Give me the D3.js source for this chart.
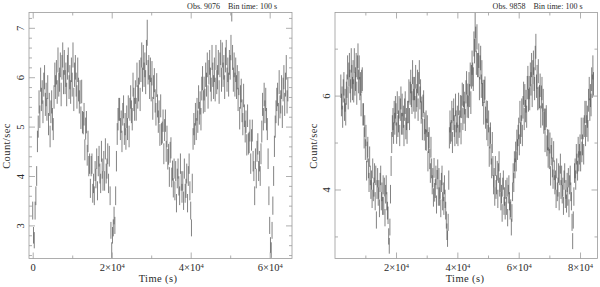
<!DOCTYPE html>
<html>
<head>
<meta charset="utf-8">
<script src="https://cdn.jsdelivr.net/npm/d3@7"></script>
<style>
  body { margin: 0; background: #fff; }
  svg { display: block; font-family: "Liberation Serif", "DejaVu Serif", serif; }
</style>
</head>
<body>
<div id="chart"></div>
<script>
// count rates, one value every 200 s
const binStep = 200;
const binTime = 100;

const obs9076Start = 0;
const obs9076Rates = [
  3.3, 2.8, 2.7, 3.3, 3.6, 4.0, 4.7, 5.0, 5.5, 5.2,
  5.95, 5.55, 5.70, 5.30, 5.85, 6.00, 5.45, 5.65, 5.35, 5.80,
  5.05, 5.45, 4.80, 5.30, 5.50, 5.15, 4.95, 5.60, 6.05, 5.80,
  6.10, 5.70, 6.35, 5.85, 5.95, 6.25, 5.65, 6.20, 6.45, 5.90,
  6.30, 5.90, 6.05, 5.65, 6.20, 6.35, 5.80, 6.00, 5.70, 6.15,
  5.85, 6.45, 5.55, 6.05, 6.20, 5.85, 5.60, 6.15, 5.75, 5.50,
  5.70, 5.18, 5.71, 5.09, 5.07, 5.25, 4.53, 4.96, 5.09, 4.42,
  4.70, 4.20, 4.25, 3.75, 4.20, 4.25, 3.65, 3.85, 3.60, 4.10,
  3.95, 4.35, 3.70, 4.20, 4.40, 4.05, 3.85, 4.50, 4.15, 3.90,
  4.30, 3.90, 4.55, 4.05, 4.15, 4.45, 3.85, 4.40, 3.60, 2.90,
  2.5, 2.8, 2.95, 3.2, 3.0, 3.6, 4.3, 4.85, 5.15, 5.35,
  5.35, 4.95, 5.10, 4.70, 5.25, 5.40, 4.85, 5.05, 4.75, 5.20,
  4.95, 5.40, 4.80, 5.35, 5.60, 5.30, 5.15, 5.85, 5.55, 5.35,
  5.70, 5.35, 6.05, 5.60, 5.75, 6.10, 5.55, 6.15, 6.45, 5.95,
  6.40, 6.05, 6.25, 5.90, 6.50, 6.90, 6.10, 6.20, 5.80, 6.15,
  5.75, 6.08, 5.37, 5.80, 5.94, 5.52, 5.25, 5.84, 5.42, 5.10,
  5.30, 4.83, 5.42, 4.85, 4.88, 5.12, 4.45, 4.93, 5.12, 4.50,
  4.80, 4.34, 4.44, 3.98, 4.48, 4.57, 3.97, 4.11, 3.76, 4.15,
  3.70, 4.10, 3.45, 3.95, 4.15, 3.80, 3.60, 4.25, 3.90, 3.65,
  3.90, 3.50, 4.15, 3.65, 3.75, 4.05, 3.45, 4.00, 4.25, 3.70,
  3.3, 2.95, 3.85, 4.75, 5.05, 4.85, 5.25, 4.95, 5.35, 5.10,
  5.60, 5.27, 5.48, 5.15, 5.77, 5.98, 5.50, 5.77, 5.53, 6.05,
  5.85, 6.25, 5.60, 6.10, 6.30, 5.95, 5.75, 6.40, 6.05, 5.80,
  6.15, 5.75, 6.40, 5.90, 6.00, 6.30, 5.70, 6.25, 6.50, 5.95,
  6.45, 6.05, 6.20, 5.80, 6.35, 6.50, 5.95, 6.15, 5.85, 6.30,
  6.2, 6.6, 7.4, 6.4, 5.95, 6.25, 5.85, 6.15, 5.8, 6.0,
  5.55, 5.88, 5.17, 5.60, 5.73, 5.32, 5.05, 5.63, 5.22, 4.90,
  5.10, 4.63, 5.22, 4.65, 4.68, 4.92, 4.25, 4.73, 4.92, 4.30,
  4.1, 3.6, 4.35, 3.95, 4.5, 4.65, 4.1, 4.3, 4.0, 4.45,
  4.9, 5.45, 5.15, 5.65, 5.3, 5.55, 5.15, 4.95, 4.35, 3.6,
  3.0, 2.6, 2.5, 2.9, 3.4, 4.0, 4.6, 5.0, 5.3, 5.55,
  5.65, 5.25, 5.90, 5.40, 5.50, 5.80, 5.20, 5.75, 6.00, 5.45,
  5.85, 6.2, 5.5, 5.75
];

const obs9858Start = 2000;
const obs9858Rates = [
  6.20, 5.80, 5.95, 5.55, 6.10, 6.25, 5.70, 5.90, 5.60, 6.05,
  6.20, 6.60, 5.95, 6.45, 6.65, 6.30, 6.10, 6.75, 6.40, 6.15,
  6.50, 6.10, 6.75, 6.25, 6.35, 6.65, 6.05, 6.60, 6.85, 6.30,
  6.60, 6.15, 6.25, 5.80, 6.30, 6.35, 5.60, 5.60, 5.10, 5.35,
  4.85, 5.15, 4.40, 4.80, 4.90, 4.45, 4.15, 4.70, 4.30, 4.00,
  4.20, 3.80, 4.45, 3.95, 4.05, 4.35, 3.75, 4.30, 3.35, 4.00,
  4.25, 3.85, 4.00, 3.60, 4.15, 4.30, 3.75, 3.95, 3.65, 4.10,
  3.65, 4.05, 3.40, 3.90, 4.10, 3.75, 3.55, 3.45, 3.00, 2.80,
  3.2, 3.9, 4.5, 5.0, 5.35, 5.5, 5.2, 5.65, 5.4, 5.75,
  5.60, 5.20, 5.85, 5.35, 5.45, 5.75, 5.15, 5.70, 5.95, 5.40,
  5.80, 5.40, 5.55, 5.15, 5.70, 5.85, 5.30, 5.50, 5.20, 5.65,
  5.65, 6.10, 5.50, 6.05, 6.30, 6.00, 5.85, 6.50, 6.15, 5.90,
  6.15, 5.75, 6.40, 5.90, 6.00, 6.30, 5.70, 6.25, 6.50, 5.95,
  6.10, 5.64, 5.74, 5.28, 5.78, 5.87, 5.27, 5.41, 5.06, 5.45,
  5.05, 5.35, 4.60, 5.00, 5.10, 4.65, 4.35, 4.90, 4.45, 4.10,
  4.25, 3.83, 4.46, 3.94, 4.02, 4.30, 3.68, 4.21, 4.43, 3.85,
  4.25, 3.85, 4.00, 3.60, 4.15, 4.30, 3.75, 3.95, 3.65, 4.10,
  3.8, 3.55, 3.35, 3.1, 2.95, 3.3, 4.2, 5.1, 5.45, 5.2,
  5.25, 5.65, 5.00, 5.50, 5.70, 5.35, 5.15, 5.80, 5.45, 5.20,
  5.55, 5.15, 5.82, 5.33, 5.45, 5.77, 5.19, 5.76, 6.03, 5.50,
  6.00, 5.64, 5.84, 5.48, 6.08, 6.27, 5.77, 6.01, 5.76, 6.25,
  6.00, 6.45, 5.85, 6.40, 6.70, 6.45, 6.35, 7.10, 6.95, 7.50,
  7.20, 6.70, 7.25, 6.65, 6.65, 6.85, 6.15, 6.60, 6.80, 6.20,
  6.50, 6.02, 6.09, 5.62, 6.09, 6.16, 5.53, 5.66, 5.28, 5.65,
  5.15, 5.45, 4.70, 5.10, 5.20, 4.75, 4.45, 5.00, 4.50, 4.10,
  4.25, 3.85, 4.50, 4.00, 4.10, 4.40, 3.80, 4.35, 4.60, 4.05,
  4.15, 3.75, 3.90, 3.50, 4.05, 4.20, 3.65, 3.85, 3.55, 4.00,
  3.65, 4.05, 3.40, 3.90, 4.10, 3.75, 3.55, 3.60, 3.20, 3.50,
  3.95, 4.35, 4.15, 4.60, 4.45, 4.80, 4.60, 5.05, 4.85, 5.15,
  5.30, 4.95, 5.65, 5.20, 5.35, 5.70, 5.15, 5.75, 6.05, 5.50,
  6.00, 5.67, 5.88, 5.55, 6.17, 6.38, 5.90, 6.17, 5.93, 6.45,
  6.25, 6.65, 6.00, 6.50, 6.70, 6.35, 6.15, 6.80, 7.05, 6.20,
  6.40, 5.93, 6.52, 5.95, 5.98, 6.22, 5.55, 5.97, 6.15, 5.60,
  5.90, 5.42, 5.49, 5.02, 5.49, 5.56, 4.93, 5.06, 4.68, 5.05,
  4.65, 4.99, 4.29, 4.73, 4.88, 4.47, 4.22, 4.81, 4.41, 4.10,
  4.20, 3.80, 4.45, 3.95, 4.05, 4.35, 3.75, 4.30, 4.55, 4.00,
  4.30, 3.90, 4.05, 3.65, 4.20, 4.35, 3.80, 4.00, 3.70, 4.15,
  3.85, 4.25, 3.60, 4.10, 4.30, 3.95, 3.75, 3.30, 2.90, 3.35,
  3.85, 4.35, 4.45, 4.20, 4.75, 4.55, 4.40, 4.90, 4.60, 4.75,
  4.95, 4.60, 5.30, 4.80, 4.95, 5.30, 4.75, 5.35, 5.65, 5.15,
  5.65, 5.35, 5.55, 5.25, 5.90, 6.15, 5.70, 6.00, 5.80, 6.35,
  6.2, 6.6, 6.25
];

// ticks
const timeMajor = [0, 20000, 40000, 60000, 80000];
const timeMinor = [10000, 30000, 50000, 70000];
const rateMajor9076 = [3, 4, 5, 6, 7];
const rateMinor9076 = [2.4, 2.6, 2.8, 3.2, 3.4, 3.6, 3.8, 4.2, 4.4, 4.6, 4.8,
  5.2, 5.4, 5.6, 5.8, 6.2, 6.4, 6.6, 6.8, 7.2];
const rateMajor9858 = [4, 6];
const rateMinor9858 = [3, 5, 7];

const width = 600, height = 287;
const frameTop = 12.5, frameBottom = 258.5;

const panels = [
  { obs: "9076", start: obs9076Start, rates: obs9076Rates,
    left: 29, right: 292, xDomain: [-940, 65650], yDomain: [2.33, 7.31],
    yMajor: rateMajor9076, yMinor: rateMinor9076, ylabX: 10, tlabX: 158 },
  { obs: "9858", start: obs9858Start, rates: obs9858Rates,
    left: 335, right: 597.5, xDomain: [100, 85700], yDomain: [2.53, 7.77],
    yMajor: rateMajor9858, yMinor: rateMinor9858, ylabX: 317, tlabX: 465 }
];

const svg = d3.select("#chart")
  .append("svg")
    .attr("width", width)
    .attr("height", height);

const tickColor = "#9a9a9a";
const textColor = "#2a2a2a";

panels.forEach((p, k) => {
  const x = d3.scaleLinear().domain(p.xDomain).range([p.left, p.right]);
  const y = d3.scaleLinear().domain(p.yDomain).range([frameBottom, frameTop]);

  const clipId = "clip" + k;
  svg.append("clipPath").attr("id", clipId)
    .append("rect")
      .attr("x", p.left).attr("y", frameTop)
      .attr("width", p.right - p.left).attr("height", frameBottom - frameTop);

  // Poisson error on a 100 s bin
  const pts = p.rates.map((r, i) => ({ t: p.start + i * binStep, r: r, e: Math.sqrt(r / binTime) }));

  const g = svg.append("g").attr("clip-path", `url(#${clipId})`);

  g.selectAll("line.err")
    .data(pts)
    .join("line")
      .attr("class", "err")
      .attr("x1", d => x(d.t)).attr("x2", d => x(d.t))
      .attr("y1", d => y(d.r - d.e)).attr("y2", d => y(d.r + d.e))
      .attr("stroke", "#404040")
      .attr("stroke-width", 0.65);

  // frame
  svg.append("rect")
    .attr("x", p.left).attr("y", frameTop)
    .attr("width", p.right - p.left).attr("height", frameBottom - frameTop)
    .attr("fill", "none")
    .attr("stroke", tickColor)
    .attr("stroke-width", 0.8);

  const xMaj = timeMajor.filter(v => v >= p.xDomain[0] && v <= p.xDomain[1]);
  const xMin = timeMinor.filter(v => v >= p.xDomain[0] && v <= p.xDomain[1]);

  function styleAxis(sel) {
    sel.select(".domain").remove();
    sel.selectAll(".tick line").attr("stroke", tickColor).attr("stroke-width", 0.8);
  }

  // bottom, with labels
  const bottomAxis = svg.append("g")
    .attr("transform", `translate(0,${frameBottom})`)
    .call(d3.axisBottom(x).tickValues(xMaj).tickSize(-6).tickPadding(5).tickFormat(""))
    .call(styleAxis);
  bottomAxis.selectAll(".tick text")
    .attr("fill", textColor)
    .style("font-size", "10.5px")
    .style("font-family", "Liberation Serif")
    .each(function(d) {
      const t = d3.select(this);
      if (d === 0) { t.text("0"); return; }
      t.append("tspan").text((d / 1e4) + "\u00d710");
      t.append("tspan").attr("dy", "-0.45em").style("font-size", "6.5px").text("4");
    });
  svg.append("g")
    .attr("transform", `translate(0,${frameBottom})`)
    .call(d3.axisBottom(x).tickValues(xMin).tickSize(-3).tickFormat(""))
    .call(styleAxis);

  // top
  svg.append("g")
    .attr("transform", `translate(0,${frameTop})`)
    .call(d3.axisTop(x).tickValues(xMaj).tickSize(-6).tickFormat(""))
    .call(styleAxis);
  svg.append("g")
    .attr("transform", `translate(0,${frameTop})`)
    .call(d3.axisTop(x).tickValues(xMin).tickSize(-3).tickFormat(""))
    .call(styleAxis);

  // left, rotated labels
  const leftAxis = svg.append("g")
    .attr("transform", `translate(${p.left},0)`)
    .call(d3.axisLeft(y).tickValues(p.yMajor).tickSize(-6).tickFormat(d3.format("d")))
    .call(styleAxis);
  leftAxis.selectAll(".tick text")
    .attr("fill", textColor)
    .attr("x", null).attr("dy", null)
    .attr("text-anchor", "middle")
    .attr("transform", "translate(-5.5,0) rotate(-90)")
    .style("font-size", "10.5px")
    .style("font-family", "Liberation Serif");
  svg.append("g")
    .attr("transform", `translate(${p.left},0)`)
    .call(d3.axisLeft(y).tickValues(p.yMinor).tickSize(-3).tickFormat(""))
    .call(styleAxis);

  // right
  svg.append("g")
    .attr("transform", `translate(${p.right},0)`)
    .call(d3.axisRight(y).tickValues(p.yMajor).tickSize(-6).tickFormat(""))
    .call(styleAxis);
  svg.append("g")
    .attr("transform", `translate(${p.right},0)`)
    .call(d3.axisRight(y).tickValues(p.yMinor).tickSize(-3).tickFormat(""))
    .call(styleAxis);

  // axis titles
  svg.append("text")
    .attr("transform", `translate(${p.ylabX},146) rotate(-90)`)
    .attr("text-anchor", "middle")
    .attr("fill", textColor)
    .style("font-size", "10.5px")
    .style("letter-spacing", "0.4px")
    .text("Count/sec");

  svg.append("text")
    .attr("x", p.tlabX).attr("y", 282)
    .attr("text-anchor", "middle")
    .attr("fill", textColor)
    .style("font-size", "10.5px")
    .style("letter-spacing", "0.4px")
    .text("Time (s)");

  // header
  svg.append("text")
    .attr("x", p.right - 15).attr("y", 8.5)
    .attr("text-anchor", "end")
    .attr("fill", textColor)
    .style("font-size", "8px")
    .text("Bin time: " + binTime + " s");
  svg.append("text")
    .attr("x", p.right - 15 - 57).attr("y", 8.5)
    .attr("text-anchor", "end")
    .attr("fill", textColor)
    .style("font-size", "8px")
    .text("Obs. " + p.obs);
});
</script>
</body>
</html>
